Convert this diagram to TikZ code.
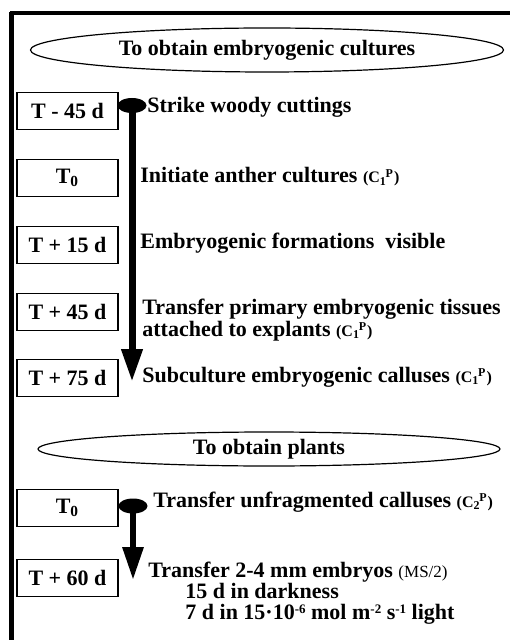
\documentclass[tikz,border=0pt]{standalone}
\usepackage{fontspec}
\setmainfont{Liberation Serif}
\usetikzlibrary{
  arrows.meta, % For arrow tips
  shapes.geometric, % For the two headline ellipses
  positioning
}

% small culture codes behind a step
\newcommand{\culture}[1]{{\fontsize{8}{8}\selectfont(C\textsubscript{#1}\kern-0.6pt\textsuperscript{P})}}
% small exponents for the light line
\newcommand{\expo}[1]{\raisebox{3pt}{\fontsize{6.5}{6.5}\selectfont#1}}

\begin{document}
\begin{tikzpicture}[
      x=0.5pt, y=-0.5pt, % one unit = one pixel of the sheet
      font=\bfseries\fontsize{11}{10}\selectfont,
      daybox/.style={draw, line width=0.6pt, minimum width=50.5pt, minimum height=18.5pt, inner sep=0pt},
      headline/.style={draw, ellipse, line width=0.6pt, inner sep=0pt},
      stepnote/.style={anchor=west, inner sep=0pt, align=left},
      blob/.style={ellipse, fill=black, inner sep=0pt, minimum width=14.5pt, minimum height=7.5pt},
      timeline/.style={line width=3.5pt, -{Triangle[width=10pt,length=16.5pt]}},
    ]

    \useasboundingbox (0,0) rectangle (510,640);

    % Rahmen (nur oben und links)
    \draw[line width=1.8pt] (10,13) -- (510,13);
    \draw[line width=2.2pt] (11.5,12) -- (11.5,640);

    % Embryogene Kulturen
    \node[headline, minimum width=236.5pt, minimum height=22pt] (head1) at (267,50)
      {To obtain embryogenic cultures};

    \foreach \name/\ypos/\txt in {d1/111/T - 45 d, d2/178/T\textsubscript{0}, d3/245/T + 15 d,
                                  d4/312/T + 45 d, d5/378/T + 75 d}
    \node[daybox] (\name) at (67.5,\ypos) {\txt};

    \node[stepnote] (s1) at (147,107) {Strike woody cuttings};
    \node[stepnote] (s2) at (140,177) {Initiate anther cultures \culture{1}};
    \node[stepnote] (s3) at (140,243) {Embryogenic formations\ \ visible};
    \node[stepnote] (s4) at (142,320) {Transfer primary embryogenic tissues\\attached to explants \culture{1}};
    \node[stepnote] (s5) at (142,377) {Subculture embryogenic calluses \culture{1}};

    \node[blob] (b1) at (132,105.5) {};
    \coordinate (e1) at (132,382);
    \draw[timeline] (b1.center) -- (e1);

    % Pflanzen
    \node[headline, minimum width=231pt, minimum height=17pt] (head2) at (269,449)
      {To obtain plants};

    \foreach \name/\ypos/\txt in {d6/508/T\textsubscript{0}, d7/578/T + 60 d}
    \node[daybox] (\name) at (67.5,\ypos) {\txt};

    \node[stepnote] (s6) at (153,502) {Transfer unfragmented calluses \culture{2}};
    \node[stepnote] (s7) at (148,572)
      {Transfer 2-4 mm embryos {\mdseries\fontsize{8.5}{10}\selectfont(MS/2)}};
    \node[stepnote] (s8) at (185,591) {15 d in darkness};
    \node[stepnote] (s9) at (185,614)
      {7 d in 15·10\expo{-6} mol m\expo{-2} s\expo{-1} light};

    \node[blob] (b2) at (133,506) {};
    \coordinate (e2) at (133,580);
    \draw[timeline, line width=3pt] (b2.center) -- (e2);

  \end{tikzpicture}
\end{document}
